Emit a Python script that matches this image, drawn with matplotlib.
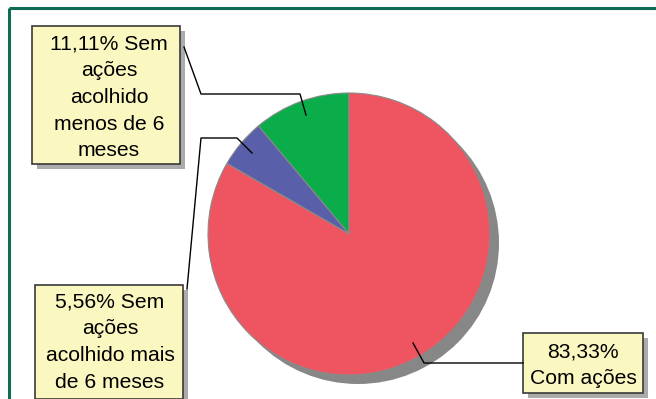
import matplotlib
matplotlib.use("Agg")
import matplotlib.pyplot as plt
from matplotlib.patches import Rectangle, Circle

plt.rcParams['font.family'] = ['Liberation Sans', 'DejaVu Sans']

# slice data, drawn counterclockwise from 12 o'clock
categories = ['Sem ações acolhido menos de 6 meses', 'Sem ações acolhido mais de 6 meses', 'Com ações']
percentages = [11.11, 5.56, 83.33]
colors = ['#0BAD4A', '#5A5FA9', '#EF5560']

label_lines = [
    ['11,11% Sem', 'ações', 'acolhido', 'menos de 6', 'meses'],
    ['5,56% Sem', 'ações', 'acolhido mais', 'de 6 meses'],
    ['83,33%', 'Com ações'],
]

W, H = 656, 399


def fy(y):
    # pixel row (from top) to data y
    return H - y


fig = plt.figure(figsize=(W / 100, H / 100), dpi=100)
ax = fig.add_axes([0, 0, 1, 1])

cx, cy, r = 349, 234, 141

# shadow behind the pie
ax.add_patch(Circle((cx + 9, fy(cy + 9)), r, facecolor='#878787', edgecolor='none', zorder=1))
ax.pie(percentages, colors=colors, startangle=90, counterclock=True,
       center=(cx, fy(cy)), radius=r,
       wedgeprops=dict(edgecolor='#8a8a8a', linewidth=0.8, zorder=2))

# label boxes: (x0, y0, x1, y1) in pixels, text centre x, first line centre y
boxes = [
    ((32, 26, 180, 164), 109, 44),
    ((35, 285, 183, 399), 110, 302),
    ((523, 333, 643, 393), 583, 352),
]
line_gap = 26.7

for (x0, y0, x1, y1), tx, ty, lines in [(b[0], b[1], b[2], l) for b, l in zip(boxes, label_lines)]:
    ax.add_patch(Rectangle((x0 + 5, fy(y1 + 5)), x1 - x0, y1 - y0, facecolor='#ABABAB',
                           edgecolor='none', zorder=3))
    ax.add_patch(Rectangle((x0, fy(y1)), x1 - x0, y1 - y0, facecolor='#FAF7C1',
                           edgecolor='#3a3a3a', linewidth=1.2, zorder=4))
    for i, s in enumerate(lines):
        ax.text(tx, fy(ty + i * line_gap), s, ha='center', va='center', fontsize=15.2,
                color='black', zorder=5)

# leader lines
leaders = [
    [(184, 47), (201, 94), (300, 94), (306, 115)],
    [(187, 289), (201, 138), (237, 138), (252, 153)],
    [(413, 343), (424, 363), (523, 363)],
]
for pts in leaders:
    ax.plot([p[0] for p in pts], [fy(p[1]) for p in pts], color='black', lw=1.0, zorder=6)

# green frame (top and left)
ax.plot([9, W], [fy(7.5), fy(7.5)], color='#0F6B54', lw=2.2, solid_capstyle='butt', zorder=7)
ax.plot([9, 9], [fy(7.5), 0], color='#0F6B54', lw=2.2, solid_capstyle='butt', zorder=7)

ax.set_xlim(0, W)
ax.set_ylim(0, H)
ax.set_aspect('equal', adjustable='box')
ax.axis('off')

fig.savefig('out.png', dpi=100)
